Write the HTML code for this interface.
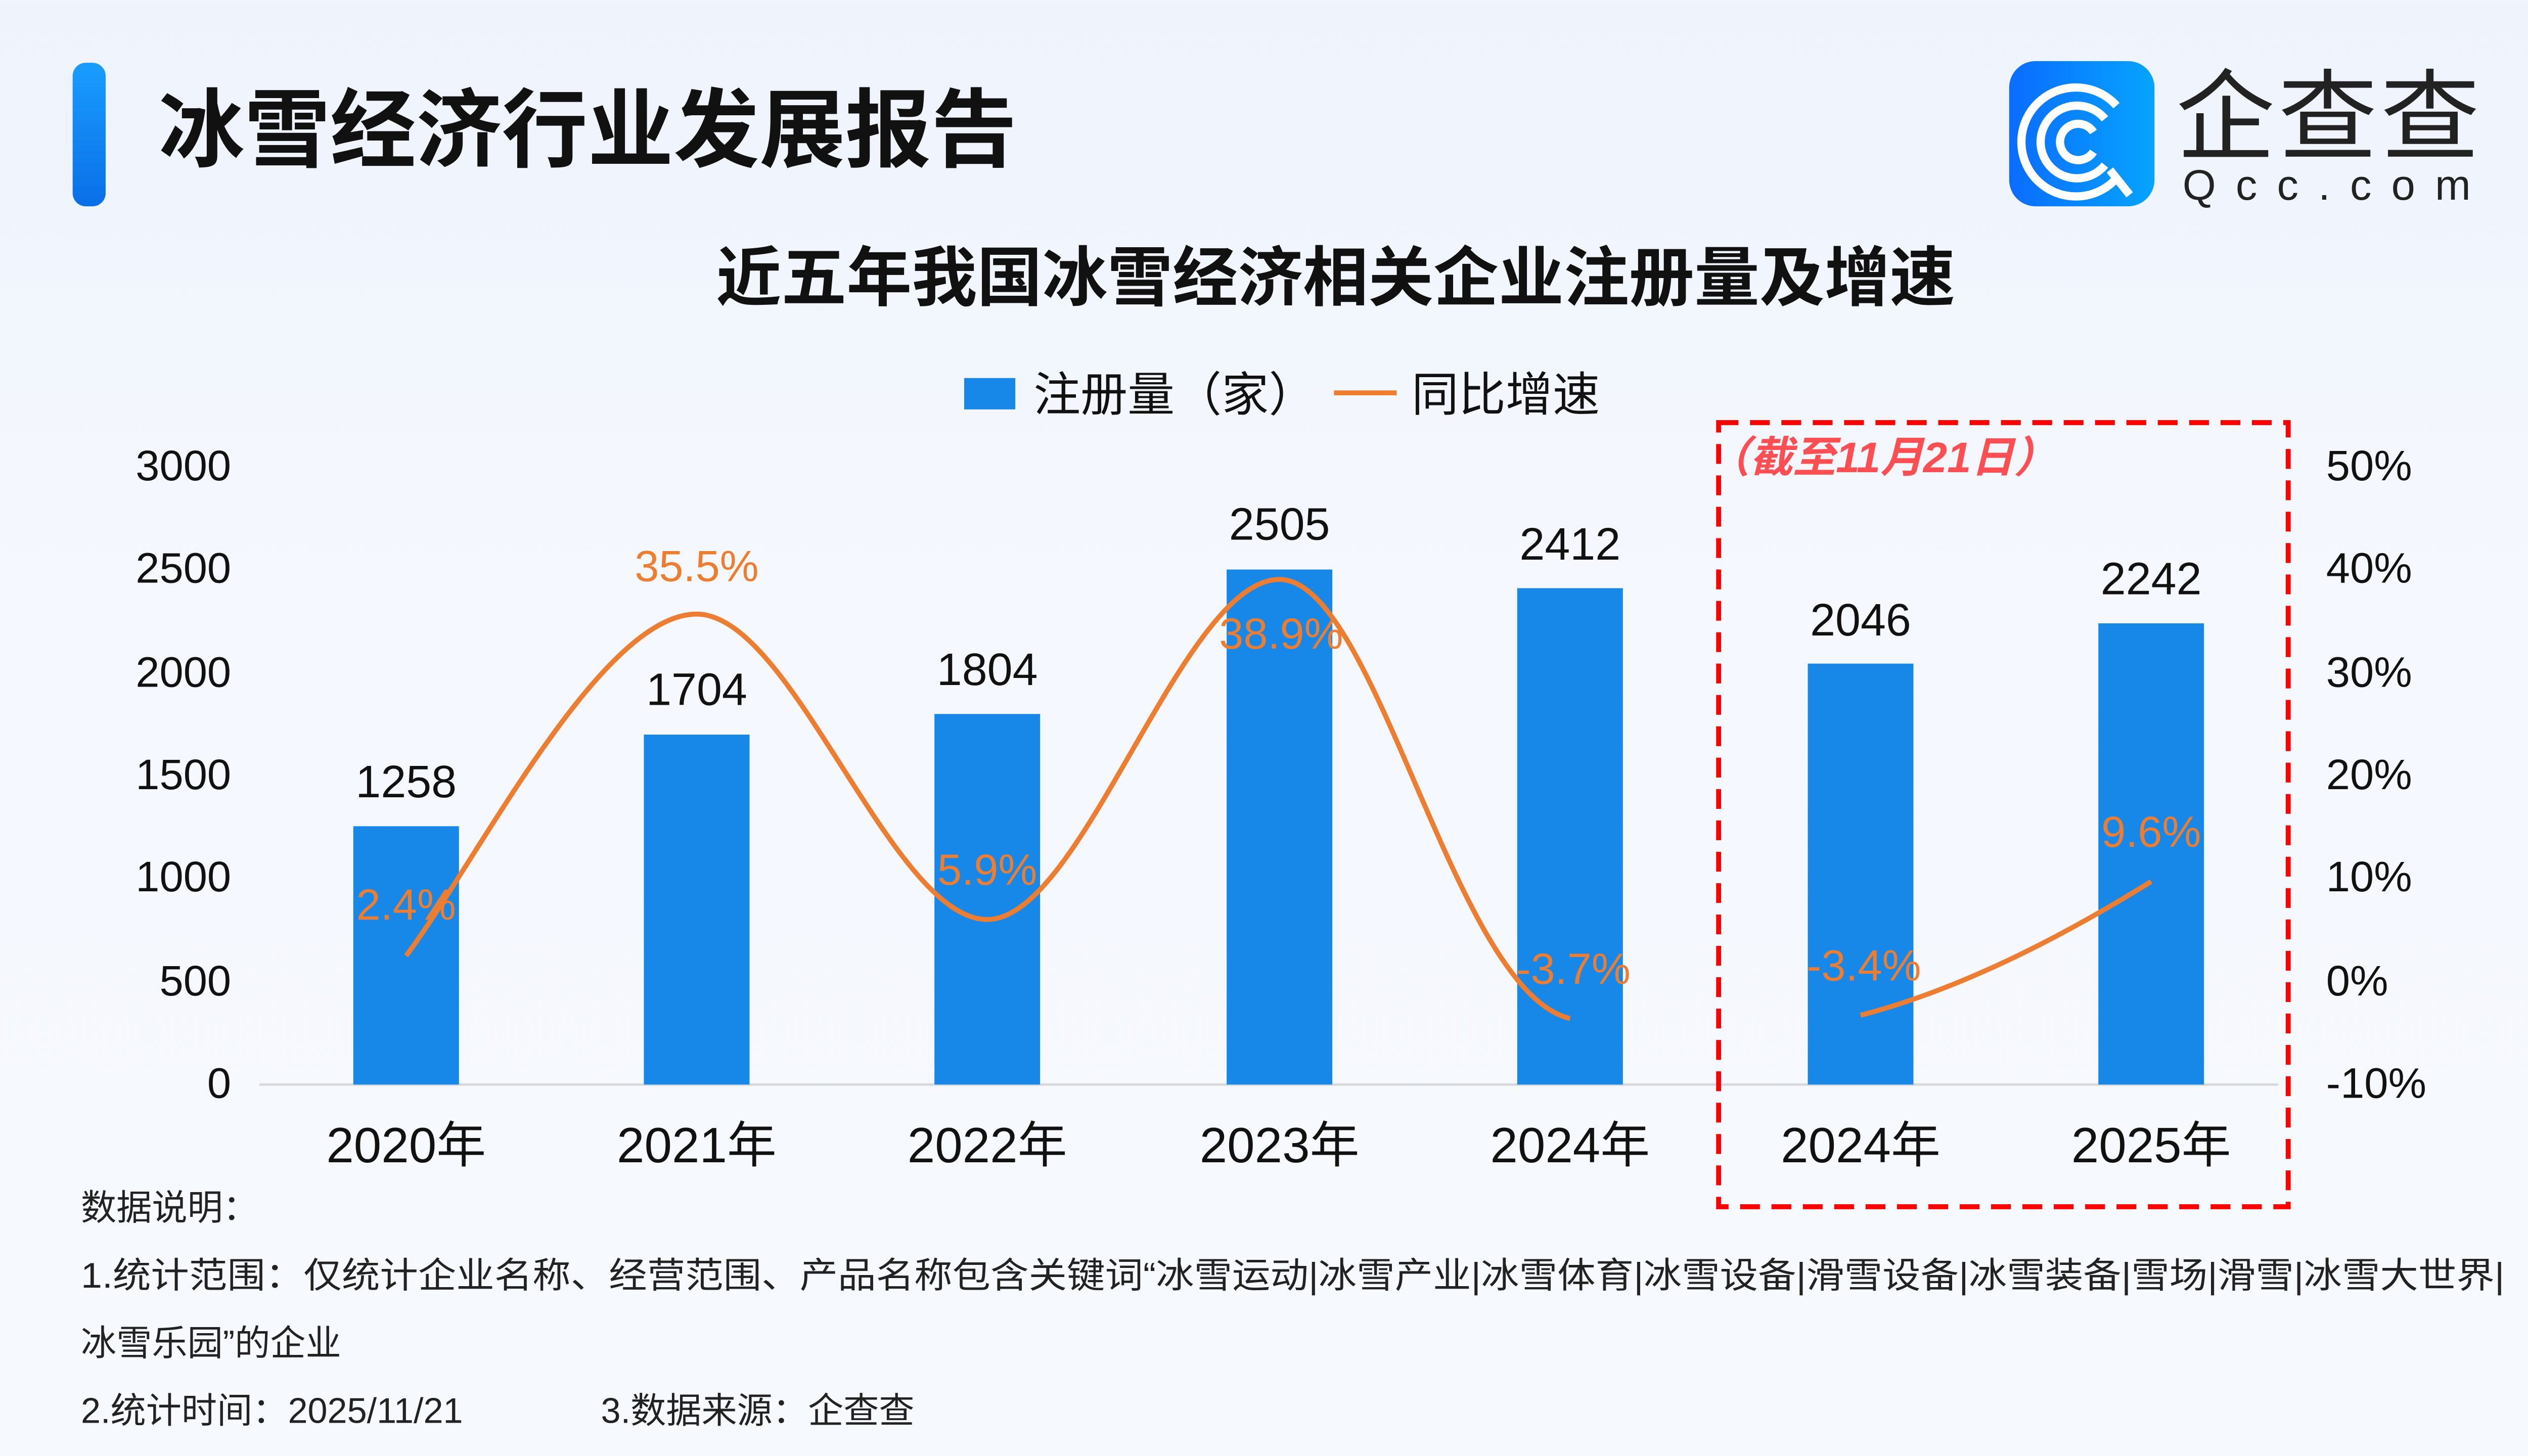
<!DOCTYPE html>
<html><head><meta charset="utf-8"><style>
html,body{margin:0;padding:0;}
body{width:5120px;height:2880px;overflow:hidden;background:linear-gradient(180deg,#eef3fc 0%,#f5f8fe 40%,#f6f9fe 100%);}
svg{display:block;}
text{font-family:"Liberation Sans","Noto Sans CJK SC",sans-serif;}
.cjk{font-family:"Noto Sans CJK SC","Liberation Sans",sans-serif;}
</style></head><body>
<svg width="5120" height="2880" viewBox="0 0 1568 882" xmlns="http://www.w3.org/2000/svg">
<defs>
<linearGradient id="bar" x1="0" y1="0" x2="0" y2="1"><stop offset="0" stop-color="#1a9dff"/><stop offset="1" stop-color="#0a6fe8"/></linearGradient>
<linearGradient id="logo" x1="0" y1="0" x2="1" y2="0"><stop offset="0" stop-color="#0a6cff"/><stop offset="1" stop-color="#06a4ff"/></linearGradient>
</defs>
<rect x="44" y="38" width="20" height="87" rx="8" fill="url(#bar)"/>
<text x="96" y="97" font-size="52" font-weight="bold" fill="#111">冰雪经济行业发展报告</text>
<rect x="1217" y="37" width="88" height="88" rx="16" fill="url(#logo)"/>
<g fill="none" stroke="#fff" stroke-width="5">
<path d="M1282 64 A33 33 0 1 0 1282 108"/>
<path d="M1275 72 A22 22 0 1 0 1275 100"/>
<path d="M1268 80 A11 11 0 1 0 1268 92"/>
<path d="M1278 103 L1290 118"/>
</g>
<text x="1318" y="92" font-size="60" fill="#222" letter-spacing="2">企查查</text>
<text x="1322" y="121" font-size="26" fill="#222" letter-spacing="12">Qcc.com</text>
<text x="809" y="182" font-size="39.5" font-weight="bold" fill="#111" text-anchor="middle">近五年我国冰雪经济相关企业注册量及增速</text>
<rect x="584" y="229" width="31" height="19" fill="#1788E8"/>
<text x="626" y="249" font-size="28.5" fill="#111">注册量（家）</text>
<line x1="808" y1="238" x2="846" y2="238" stroke="#ED7D31" stroke-width="3"/>
<text x="855" y="249" font-size="28.5" fill="#111">同比增速</text>
<g font-size="26" fill="#111" text-anchor="end">
<text x="140" y="291">3000</text><text x="140" y="353">2500</text><text x="140" y="416">2000</text>
<text x="140" y="478">1500</text><text x="140" y="540">1000</text><text x="140" y="603">500</text><text x="140" y="665">0</text>
</g>
<g font-size="26" fill="#111">
<text x="1409" y="291">50%</text><text x="1409" y="353">40%</text><text x="1409" y="416">30%</text>
<text x="1409" y="478">20%</text><text x="1409" y="540">10%</text><text x="1409" y="603">0%</text><text x="1409" y="665">-10%</text>
</g>
<line x1="157" y1="657" x2="1380" y2="657" stroke="#d9d9d9" stroke-width="1.5"/>
<g fill="#1788E8">
<rect x="214" y="500.5" width="64" height="156.5"/>
<rect x="390" y="445" width="64" height="212"/>
<rect x="566" y="432.5" width="64" height="224.5"/>
<rect x="743" y="345" width="64" height="312"/>
<rect x="919" y="356.3" width="64" height="300.7"/>
<rect x="1095" y="402" width="64" height="255"/>
<rect x="1271" y="377.6" width="64" height="279.4"/>
</g>
<g font-size="27.5" fill="#111" text-anchor="middle">
<text x="246" y="483">1258</text><text x="422" y="427">1704</text><text x="598" y="415">1804</text>
<text x="775" y="327">2505</text><text x="951" y="339">2412</text><text x="1127" y="385">2046</text><text x="1303" y="360">2242</text>
</g>
<g font-size="30" fill="#111" text-anchor="middle">
<text x="246" y="704">2020年</text><text x="422" y="704">2021年</text><text x="598" y="704">2022年</text>
<text x="775" y="704">2023年</text><text x="951" y="704">2024年</text><text x="1127" y="704">2024年</text><text x="1303" y="704">2025年</text>
</g>
<g fill="none" stroke="#ED7D31" stroke-width="3">
<path d="M246 579 C290 520 364 372 422 372 C480 372 540 557 598 557 C656 557 716 351 775 351 C834 351 880 600 951 617"/>
<path d="M1127 615 C1185 600 1245 570 1303 534"/>
</g>
<g font-size="26.5" fill="#ED7D31" text-anchor="middle">
<text x="422" y="352">35.5%</text><text x="246" y="557">2.4%</text><text x="598" y="536">5.9%</text>
<text x="776" y="393">38.9%</text><text x="953" y="596">-3.7%</text><text x="1129" y="594">-3.4%</text><text x="1303" y="513">9.6%</text>
</g>
<rect x="1041" y="256" width="345" height="475" fill="none" stroke="#ff0000" stroke-width="3" stroke-dasharray="12,7"/>
<text x="1034" y="286" font-size="26" font-weight="bold" font-style="italic" fill="#ff4f52">（截至11月21日）</text>
<g font-size="21.5" fill="#222" class="cjk">
<text x="49" y="739">数据说明：</text>
<text x="49" y="780" textLength="1468" lengthAdjust="spacingAndGlyphs">1.统计范围：仅统计企业名称、经营范围、产品名称包含关键词“冰雪运动|冰雪产业|冰雪体育|冰雪设备|滑雪设备|冰雪装备|雪场|滑雪|冰雪大世界|</text>
<text x="49" y="821">冰雪乐园”的企业</text>
<text x="49" y="862">2.统计时间：2025/11/21</text>
<text x="364" y="862">3.数据来源：企查查</text>
</g>
</svg>
</body></html>
